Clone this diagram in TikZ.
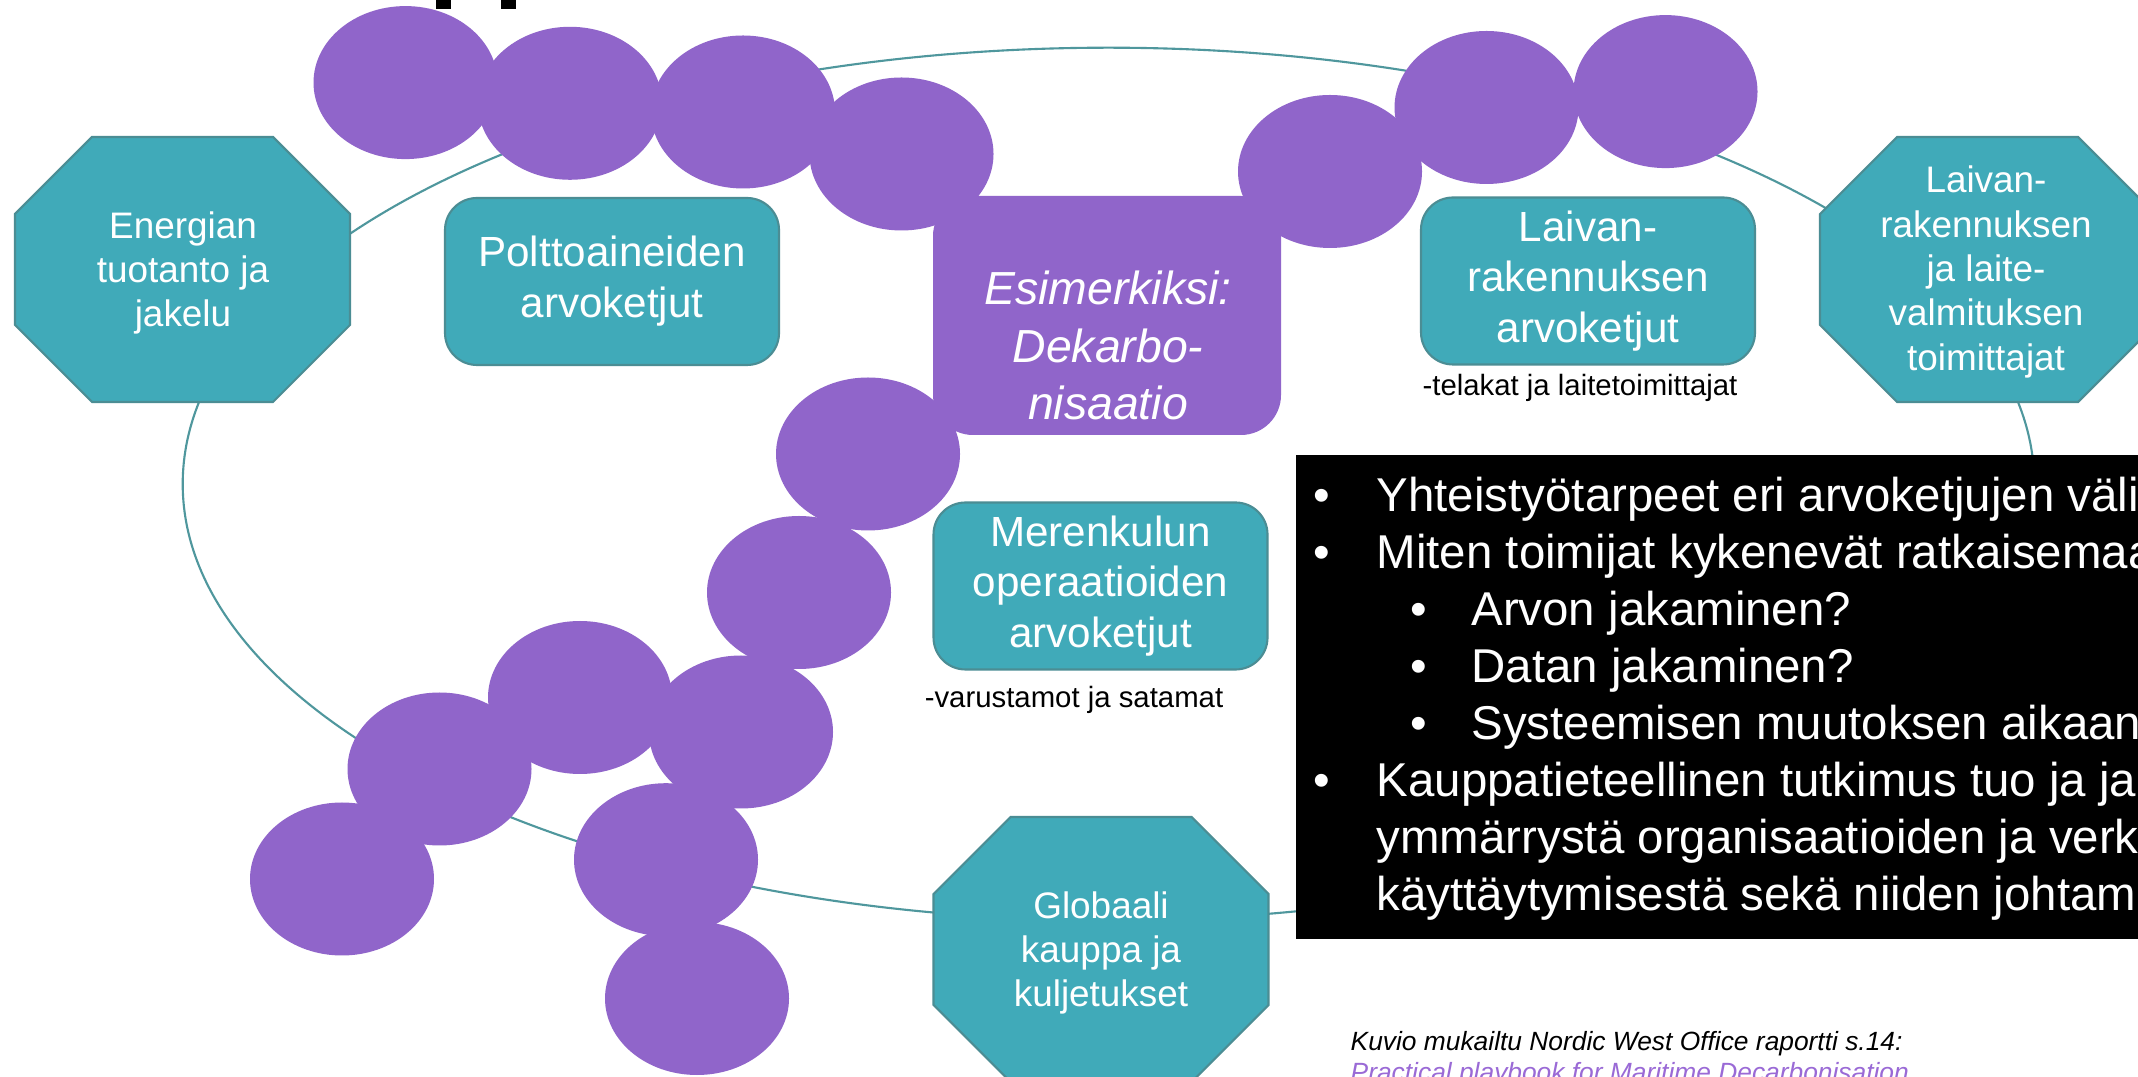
\documentclass[tikz,border=0pt]{standalone}
\usepackage{fontspec}
\setmainfont{Liberation Sans}
\definecolor{ringteal}{HTML}{4F979D}
\definecolor{boxteal}{HTML}{40AAB9}
\definecolor{edgeteal}{HTML}{4B8D94}
\definecolor{beadpurple}{HTML}{9065CA}
\definecolor{linkpurple}{HTML}{9A6AD6}
\begin{document}
\begin{tikzpicture}[x=0.1mm,y=-0.1mm,
  ring/.style={draw=ringteal,line width=0.6pt},
  octabox/.style={fill=boxteal,draw=edgeteal,line width=0.6pt},
  chainbox/.style={fill=boxteal,draw=edgeteal,line width=0.6pt,rounded corners=3.2mm,
    minimum width=33.4mm,minimum height=16.7mm,inner sep=0pt},
  casebox/.style={fill=beadpurple,rounded corners=4mm,minimum width=34.8mm,minimum height=23.9mm},
  bead/.style={fill=beadpurple},
  octtext/.style={text=white,align=center,inner sep=0pt,font=\fontsize{10.5}{12.6}\selectfont},
  chaintext/.style={text=white,align=center,font=\fontsize{12}{14.45}\selectfont},
  casetext/.style={text=white,align=center,inner sep=0pt,font=\fontsize{13.2}{16.36}\selectfont\itshape},
  note/.style={inner sep=0pt,anchor=base,font=\fontsize{8.35}{10}\selectfont},
  point/.style={text=white,inner sep=0pt,anchor=base west,font=\fontsize{13.5}{16.2}\selectfont},
  source/.style={inner sep=0pt,anchor=base west,font=\fontsize{7.5}{8.8}\selectfont\itshape}]
% slide coordinates in pixels, y running down
\def\octagon#1#2{\filldraw[octabox] (#1-90.5,#2-132.5) -- ++(181,0) -- ++(77,77)
 -- ++(0,111) -- ++(-77,77) -- ++(-181,0) -- ++(-77,-77) -- ++(0,-111) -- cycle;}
\useasboundingbox (0,0) rectangle (2138,1077);
\fill[white] (0,0) rectangle (2138,1077);
\fill (436,0) rectangle (450.7,9.3);
\fill (500.7,0) rectangle (515.7,9.3);
\draw[ring] (1108.5,484) ellipse [x radius=92.58mm, y radius=43.63mm];
\octagon{182.5}{269.5}
\octagon{1987.5}{269.5}
\octagon{1101}{949.5}
\node[chainbox,chaintext] (polttoaine) at (612,281.5) {Polttoaineiden\\arvoketjut};
\node[chainbox,chaintext] (laivanrak) at (1588,281) {Laivan-\\rakennuksen\\arvoketjut};
\node[chainbox,chaintext] (merenkulku) at (1100.5,586) {Merenkulun\\operaatioiden\\arvoketjut};
\node[casebox] (dekarb) at (1107,315.5) {};
\fill[bead] (405.5,82.6) ellipse [x radius=9.2mm, y radius=7.65mm];
\fill[bead] (570,103.3) ellipse [x radius=9.2mm, y radius=7.65mm];
\fill[bead] (743,112) ellipse [x radius=9.2mm, y radius=7.65mm];
\fill[bead] (901.5,154) ellipse [x radius=9.2mm, y radius=7.65mm];
\fill[bead] (868,454) ellipse [x radius=9.2mm, y radius=7.65mm];
\fill[bead] (1330,171.5) ellipse [x radius=9.2mm, y radius=7.65mm];
\fill[bead] (1486.5,107.5) ellipse [x radius=9.2mm, y radius=7.65mm];
\fill[bead] (1665.5,91.6) ellipse [x radius=9.2mm, y radius=7.65mm];
\fill[bead] (799,592.5) ellipse [x radius=9.2mm, y radius=7.65mm];
\fill[bead] (580,697.5) ellipse [x radius=9.2mm, y radius=7.65mm];
\fill[bead] (741,732) ellipse [x radius=9.2mm, y radius=7.65mm];
\fill[bead] (439.5,769) ellipse [x radius=9.2mm, y radius=7.65mm];
\fill[bead] (342,879) ellipse [x radius=9.2mm, y radius=7.65mm];
\fill[bead] (666,859.7) ellipse [x radius=9.2mm, y radius=7.65mm];
\fill[bead] (697,998.5) ellipse [x radius=9.2mm, y radius=7.65mm];
\node[octtext] (energia) at (183,273) {Energian\\tuotanto ja\\jakelu};
\node[octtext] (laitteet) at (1986,272) {Laivan-\\rakennuksen\\ja laite-\\valmituksen\\toimittajat};
\node[octtext] (kauppa) at (1101,953) {Globaali\\kauppa ja\\kuljetukset};
\node[casetext] (dekarbteksti) at (1108,345.7) {Esimerkiksi:\\Dekarbo-\\nisaatio};
\node[note] (telakat) at (1580,396) {-telakat ja laitetoimittajat};
\node[note] (varustamot) at (1074,708) {-varustamot ja satamat};
\node[fill=black,inner sep=0pt,minimum width=84.3mm,minimum height=48.4mm,anchor=north west] (panel) at (1295,454) {};
\node[point] (b1) at (1313,511.7) {•};
\node[point] (t1) at (1376,511.7) {Yhteistyötarpeet eri arvoketjujen väli};
\node[point] (b2) at (1313,568.5) {•};
\node[point] (t2) at (1376,568.5) {Miten toimijat kykenevät ratkaisemaa};
\node[point] (b3) at (1410,625.5) {•};
\node[point] (t3) at (1470.7,625.5) {Arvon jakaminen?};
\node[point] (b4) at (1410,682.5) {•};
\node[point] (t4) at (1470.7,682.5) {Datan jakaminen?};
\node[point] (b5) at (1410,739.5) {•};
\node[point] (t5) at (1470.7,739.5) {Systeemisen muutoksen aikaan};
\node[point] (b6) at (1313,796.5) {•};
\node[point] (t6) at (1376,796.5) {Kauppatieteellinen tutkimus tuo ja ja};
\node[point] (t7) at (1376,853.5) {ymmärrystä organisaatioiden ja verk};
\node[point] (t8) at (1376,910.5) {käyttäytymisestä sekä niiden johtam};
\node[source] (viite) at (1350,1050) {Kuvio mukailtu Nordic West Office raportti s.14:};
\node[source,text=linkpurple] (linkki) at (1350,1081) {Practical playbook for Maritime Decarbonisation};
\end{tikzpicture}
\end{document}
